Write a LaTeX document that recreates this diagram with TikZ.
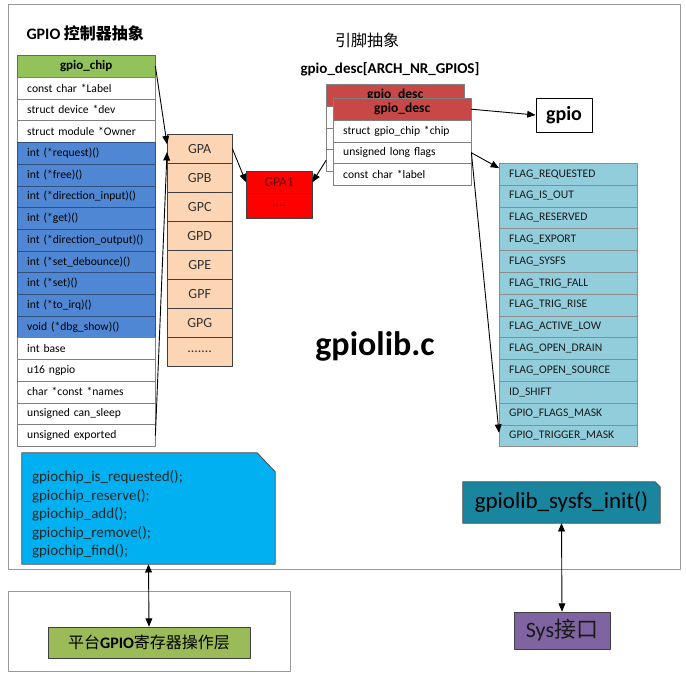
\documentclass[tikz,border=0pt]{standalone}
\usepackage{fontspec}
\setmainfont{Carlito}
\newfontfamily\cjk{Noto Sans CJK SC}
\usetikzlibrary{arrows,backgrounds}
\definecolor{chipgreen}{RGB}{146,195,90}
\definecolor{opsblue}{RGB}{80,135,212}
\definecolor{portpeach}{RGB}{252,213,180}
\definecolor{descred}{RGB}{200,72,72}
\definecolor{flagaqua}{RGB}{146,205,220}
\definecolor{funcblue}{RGB}{0,176,240}
\definecolor{sysfsteal}{RGB}{25,133,158}
\definecolor{syspurple}{RGB}{128,100,162}
\definecolor{halgreen}{RGB}{155,187,89}
\newcommand{\fsz}[1]{\fontsize{#1}{#1}\selectfont}
\newcommand{\portdots}{.......}

\begin{document}
\catcode`\_=12
\begin{tikzpicture}[line cap=round,line join=round,>=triangle 45,x=1pt,y=-1pt,
	areaframe/.style={draw=black!40,line width=0.8pt},
	chipfield/.style={draw=black!50,fill=white,anchor=north west,minimum height=21.7pt,text width=118pt,inner xsep=10pt,inner ysep=0pt,align=left,font=\fsz{11.6}},
	chiphead/.style={chipfield,fill=chipgreen,draw=chipgreen!60!black,minimum height=22pt,align=center,font=\bfseries\fsz{13}},
	opsfield/.style={chipfield,fill=opsblue,draw=opsblue!60!black},
	portbox/.style={draw=black!75,fill=portpeach,anchor=north west,minimum width=65pt,minimum height=29pt,inner sep=0pt,font=\fsz{14},text=black!80},
	pinbox/.style={draw=black!75,fill=red,anchor=north west,minimum width=66pt,minimum height=22pt,inner sep=0pt,font=\fsz{13.5},text=red!40!black},
	deschead/.style={chipfield,fill=descred,draw=black!50,minimum height=22pt,align=center,font=\bfseries\fsz{13.5}},
	flagfield/.style={chipfield,fill=flagaqua,draw=black!45,minimum height=21.8pt,text=black!90},
	conn/.style={->,line width=0.9pt}]
	\useasboundingbox (0,0) rectangle (686,675);
	\draw[areaframe] (8,4) rectangle (680,569);
	\draw[areaframe] (8,591) rectangle (290,671);
	\node[anchor=west,font=\fsz{16}] (title) at (23,33) {{\bfseries GPIO} {\cjk\bfseries 控制器抽象}};
	\node[font=\cjk\fsz{16}] (pintitle) at (367,40) {引脚抽象};
	\node[font=\bfseries\fsz{15}] (desctitle) at (390,69) {gpio_desc[ARCH_NR_GPIOS]};
	\node[chiphead] (chip0) at (17,55) {gpio_chip};
	\foreach \txt [count=\i] in {const char *Label,struct device *dev,struct module *Owner}
		\node[chipfield] (chip\i) at (17,{77+21.7*(\i-1)}) {\txt};
	\foreach \txt [count=\i from 4] in {int (*request)(),int (*free)(),int (*direction_input)(),int (*get)(),int (*direction_output)(),int (*set_debounce)(),int (*set)(),int (*to_irq)(),void (*dbg_show)()}
		\node[opsfield] (chip\i) at (17,{77+21.7*(\i-1)}) {\txt};
	\foreach \txt [count=\i from 13] in {int base,u16 ngpio,char *const *names,unsigned can_sleep,unsigned exported}
		\node[chipfield] (chip\i) at (17,{77+21.7*(\i-1)}) {\txt};
	\foreach \txt [count=\i] in {GPA,GPB,GPC,GPD,GPE,GPF,GPG,\portdots}
		\node[portbox] (port\i) at (167,{134+29*(\i-1)}) {\txt};
	\node[pinbox] (pin1) at (246,171) {GPA1};
	\node[pinbox,minimum height=25pt] (pin2) at (246,193) {....};
	\node[deschead] (backhead) at (326,84) {gpio_desc};
	\foreach \i in {1,2,3}
		\node[chipfield] (back\i) at (326,{106+21.7*(\i-1)}) {};
	\node[deschead] (deschead) at (333,98) {gpio_desc};
	\foreach \txt [count=\i] in {struct gpio_chip *chip,unsigned long flags,const char *label}
		\node[chipfield] (desc\i) at (333,{120+21.7*(\i-1)}) {\txt};
	\node[draw,line width=1pt,minimum width=56pt,minimum height=34pt,font=\bfseries\fsz{20}] (gpio) at (564,115) {gpio};
	\foreach \txt [count=\i] in {FLAG_REQUESTED,FLAG_IS_OUT,FLAG_RESERVED,FLAG_EXPORT,FLAG_SYSFS,FLAG_TRIG_FALL,FLAG_TRIG_RISE,FLAG_ACTIVE_LOW,FLAG_OPEN_DRAIN,FLAG_OPEN_SOURCE,ID_SHIFT,GPIO_FLAGS_MASK,GPIO_TRIGGER_MASK}
		\node[flagfield] (flag\i) at (499,{163+21.8*(\i-1)}) {\txt};
	\node[anchor=base,font=\bfseries\fsz{34}] (lib) at (375,355) {gpiolib.c};
	\node[minimum width=253pt,minimum height=99pt,text width=233pt,inner xsep=10pt,align=left,text=black!85,font=\fontsize{15}{18.6}\selectfont] (funcs) at (148.5,514.5) {gpiochip_is_requested();\\gpiochip_reserve();\\gpiochip_add();\\gpiochip_remove();\\gpiochip_find();};
	\node[minimum width=197pt,minimum height=41pt,inner sep=0pt,font=\fsz{23}] (sysfs) at (561.5,502.5) {gpiolib_sysfs_init()};
	\begin{scope}[on background layer]
		\draw[fill=funcblue,draw=black!70,line width=0.8pt] (funcs.south west) |- ([xshift=-18pt,yshift=12pt]funcs.north east) -- ([yshift=-7pt]funcs.north east) |- cycle;
		\draw[fill=sysfsteal,draw=black!70,line width=0.8pt] (sysfs.south west) |- ([xshift=-5pt]sysfs.north east) -- ([yshift=-5pt]sysfs.north east) |- cycle;
	\end{scope}
	\node[draw=black!75,line width=0.8pt,fill=syspurple,minimum width=96pt,minimum height=37pt,inner sep=0pt,font=\fsz{22},text=black!90] (sys) at (562,630.5) {Sys{\cjk 接口}};
	\node[draw=black!75,line width=0.8pt,fill=halgreen,minimum width=202pt,minimum height=31pt,inner sep=0pt,font=\fsz{16}] (hal) at (149,642.5) {{\cjk 平台}{\bfseries GPIO}{\cjk 寄存器操作层}};
	\draw[conn] (chip0.east) -- ([yshift=4.5pt]port1.west);
	\draw[conn] (chip17.east) -- ([yshift=-3.5pt]port1.west);
	\draw[conn] (port1.east) -- (pin1.west);
	\draw[conn] (back3.west) -- (pin1.east);
	\draw[conn] (deschead.east) -- (gpio.west);
	\draw[conn] (desc2.east) -- ([yshift=6pt]flag1.west);
	\draw[conn] (desc2.east) -- ([yshift=3pt]flag13.west);
	\draw[conn,<->] (funcs.south) -- (hal.north);
	\draw[conn,<->] (sysfs.south) -- (sys.north);
\end{tikzpicture}
\end{document}
